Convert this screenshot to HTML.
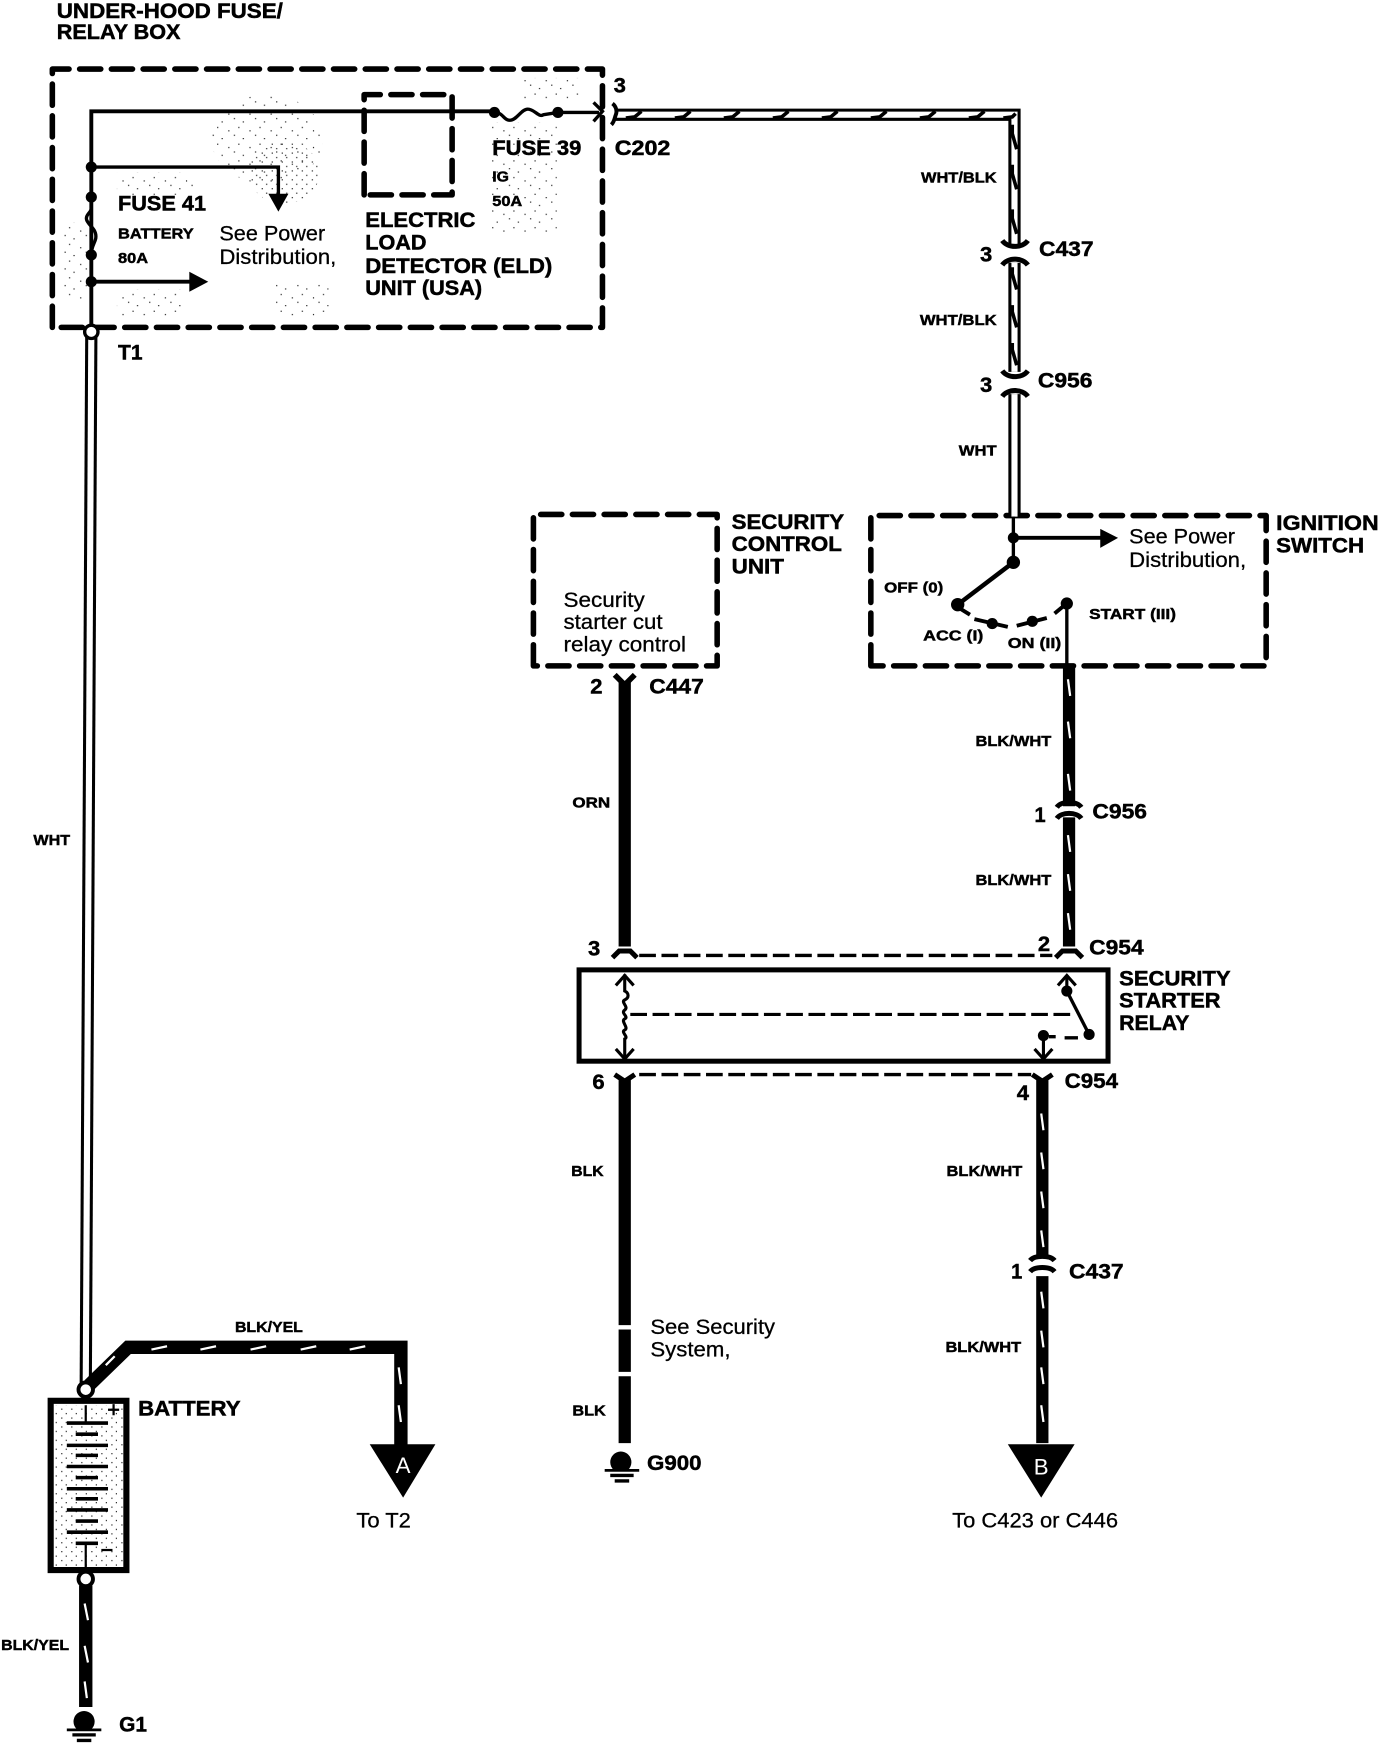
<!DOCTYPE html>
<html><head><meta charset="utf-8"><title>Security starter circuit</title>
<style>
html,body{margin:0;padding:0;background:#fff}
svg{display:block}
text{font-family:"Liberation Sans",Arial,sans-serif;fill:#000}
.b{font-weight:700;font-size:19px;stroke:#000;stroke-width:.45px}
.s{font-weight:700;font-size:13px;stroke:#000;stroke-width:.4px}
.r{font-size:19px;stroke:#000;stroke-width:.25px}
.n{font-weight:700;font-size:19px;stroke:#000;stroke-width:.4px}
</style></head><body>
<svg width="1392" height="1746" viewBox="0 0 1250 1568" preserveAspectRatio="none" xmlns="http://www.w3.org/2000/svg">
<defs>
<pattern id="st" width="19" height="15" patternUnits="userSpaceOnUse">
<rect x="1" y="1" width="1" height="1" fill="#000"/><rect x="9" y="4" width="1" height="1" fill="#000"/><rect x="5" y="9" width="1" height="1" fill="#000"/><rect x="15" y="12" width="1" height="1" fill="#000"/>
</pattern>
<pattern id="st2" width="9" height="8" patternUnits="userSpaceOnUse">
<rect x="1" y="1" width="1" height="1" fill="#000"/><rect x="5" y="5" width="1" height="1" fill="#000"/>
</pattern>
</defs>
<rect width="1250" height="1568" fill="#fff"/>

<!-- stipple -->
<g>
<ellipse cx="240" cy="125" rx="50" ry="40" fill="url(#st)"/>
<ellipse cx="255" cy="155" rx="32" ry="28" fill="url(#st2)"/>
<rect x="105" y="155" width="70" height="20" fill="url(#st)"/>
<rect x="55" y="200" width="25" height="70" fill="url(#st)"/>
<rect x="105" y="260" width="60" height="25" fill="url(#st)"/>
<rect x="245" y="255" width="50" height="30" fill="url(#st)"/>
<rect x="440" y="110" width="60" height="100" fill="url(#st)"/>
<rect x="470" y="70" width="50" height="20" fill="url(#st)"/>
<rect x="48" y="1262" width="66" height="146" fill="url(#st2)"/>
</g>

<!-- dashed boxes -->
<g fill="none" stroke="#000" stroke-width="5" stroke-dasharray="19 9.5" stroke-linecap="round" stroke-linejoin="round">
<path d="M47 294V62H541V294Z"/>
<path d="M327 175V85H406V175Z"/>
<path d="M479 598V462H644V598Z"/>
<path d="M782 598V463H1137V598Z"/>
</g>

<!-- under-hood wiring -->
<g fill="none" stroke="#000">
<path d="M82 294V100H444" stroke-width="3.5"/>
<path d="M82 150H250V176" stroke-width="3"/>
<path d="M82 253H172" stroke-width="3.5"/>
<path d="M444 101c8 0 8 7 14 7s10-10 16-10 10 8 14 5l13-2H538" stroke-width="3"/>
<path d="M533 92L541 100L533 109" stroke-width="3"/>
<path d="M82 177v10c0 4-6 6-4 11 3 6 9 8 8 16-1 5-4 7-4 15" stroke-width="3"/>
</g>
<g>
<circle cx="82" cy="150" r="5"/><circle cx="82" cy="177" r="5"/><circle cx="82" cy="229" r="5"/><circle cx="82" cy="253" r="5"/>
<circle cx="444" cy="101" r="5"/><circle cx="501" cy="101" r="5"/>
<path d="M241 174H259L250 190Z"/>
<path d="M170 244L187 253L170 262Z"/>
</g>

<!-- left white wire -->
<path d="M82 300L77 1244" stroke="#000" stroke-width="11" fill="none"/>
<path d="M82 300L77 1244" stroke="#fff" stroke-width="5.5" fill="none"/>
<circle cx="82" cy="298" r="6" fill="#fff" stroke="#000" stroke-width="3"/>

<!-- top WHT/BLK wire -->
<g fill="none">
<path d="M552 103H911V220M911 236V334" stroke="#000" stroke-width="11"/>
<path d="M552 103H911V220M911 236V334" stroke="#fff" stroke-width="5.5"/>
<path d="M911 354V464" stroke="#000" stroke-width="11"/>
<path d="M911 354V464" stroke="#fff" stroke-width="5.5"/>
<path d="M550 93c4 3 4 8 3 10s-1 6-4 9" stroke="#000" stroke-width="3.5"/>
<path d="M900 216c5 7 18 7 23 0M900 238c5-7 18-7 23 0M900 333c5 7 18 7 23 0M900 356c5-7 18-7 23 0" stroke="#000" stroke-width="4.5"/>
<path stroke="#000" stroke-width="3.2" d="M562 106l8-1 6-5M606 106l8-1 6-5M650 106l8-1 6-5M694 106l8-1 6-5M738 106l8-1 6-5M782 106l8-1 6-5M826 106l8-1 6-5M870 106l8-1 6-5M901 106l8-1 3-3M909 112v8l4 14M909 148v8l4 14M909 188v8l4 14M909 240v6l4 14M909 274v6l4 14M909 308v6l4 14"/>
</g>

<!-- ignition switch -->
<g fill="none" stroke="#000">
<path d="M910 464V505" stroke-width="3"/>
<path d="M910 483H990" stroke-width="3.5"/>
<path d="M910 505L860 543" stroke-width="4"/>
<path d="M858 544l13 8M875 556l30 7M913 562l27-7M947 551l12-10" stroke-width="3.5"/>
<path d="M958 543V597" stroke-width="3"/>
</g>
<g>
<circle cx="910" cy="483" r="5"/><circle cx="910" cy="505" r="6"/><circle cx="860" cy="543" r="6"/>
<circle cx="891" cy="560" r="5"/><circle cx="927" cy="558" r="5"/><circle cx="958" cy="542" r="5.5"/>
<path d="M988 475L1004 483L988 492Z"/>
</g>

<!-- BLK/WHT and others -->
<g fill="none" stroke="#000">
<path d="M960 596V724M960 734V850" stroke-width="11"/>
<path d="M561 612V850" stroke-width="11"/>
<path d="M561 970V1190M561 1194V1232M561 1236V1296" stroke-width="11"/>
<path d="M936 970V1130M936 1146V1296" stroke-width="11"/>
<path d="M77 1424V1533" stroke-width="12"/>
<path d="M80 1244L115 1210H360V1298" stroke-width="12" stroke-linejoin="miter"/>
<path d="M552 606l9 9 9-9" stroke-width="5"/>
<path d="M550 860l6-6h10l6 6" stroke-width="4.5"/>
<path d="M948 860l6-6h12l6 6" stroke-width="4.5"/>
<path d="M552 965l9 6 9-6" stroke-width="4.5"/>
<path d="M927 965l9 6 9-6" stroke-width="4.5"/>
<path d="M949 725c4-6 18-6 22 0" stroke-width="4.5"/>
<path d="M949 735c4-6 18-6 22 0" stroke-width="4.5"/>
<path d="M925 1132c4-5 18-5 22 0" stroke-width="4.5"/>
<path d="M925 1142c4-5 18-5 22 0" stroke-width="4.5"/>
<path d="M574 858H945M574 965H926" stroke-width="3" stroke-dasharray="15 5"/>
</g>
<path fill="none" stroke="#fff" stroke-width="2" d="M959 610l2 15M959 648l2 15M959 695l2 15M959 750l2 15M959 785l2 15M959 820l2 15M935 1000l2 15M935 1035l2 15M935 1070l2 15M935 1105l2 15M935 1160l2 15M935 1195l2 15M935 1228l2 15M935 1262l2 15M76 1440l3 15M76 1478l3 15M76 1510l2 15M358 1228l2 15M358 1262l2 15M95 1226l8-8M136 1212l14-3M180 1212l14-3M225 1212l14-3M270 1212l14-3M314 1212l14-3"/>

<!-- relay -->
<rect x="520" y="871" width="475" height="82" fill="#fff" stroke="#000" stroke-width="4.5"/>
<g fill="none" stroke="#000" stroke-width="2.8">
<path d="M561 875V890c4 2 4 6 0 8s4 6 0 9 4 6 0 8 4 8 0 10 4 6 0 8V950"/>
<path d="M553 885l8-9 8 9M553 942l8 9 8-9"/>
<path d="M566 911H964" stroke-dasharray="15 5"/>
<path d="M950 885l8-9 8 9M929 942l8 9 8-9"/>
<path d="M958 876V890M937 930V950"/>
<path d="M958 890L978 929" stroke-width="3"/>
<path d="M942 931h6M956 932h12" stroke-width="3"/>
</g>
<g><circle cx="958" cy="890" r="5"/><circle cx="978" cy="929" r="5"/><circle cx="937" cy="930" r="5"/></g>

<!-- arrows -->
<path d="M332 1297H391L362 1345Z"/>
<path d="M905 1297H965L935 1345Z"/>
<text x="362" y="1323" text-anchor="middle" font-size="20" style="fill:#fff">A</text>
<text x="935" y="1324" text-anchor="middle" font-size="20" style="fill:#fff">B</text>

<!-- battery -->
<rect x="45.5" y="1258" width="68" height="152" fill="none" stroke="#000" stroke-width="5.5"/>
<g stroke="#000" stroke-width="3.2" fill="none">
<path d="M60 1278H97M68 1288H88M60 1298H97M68 1307H88M60 1317H97M68 1327H88M60 1337H97M68 1346H88M60 1356H97M68 1366H88M60 1376H97M68 1386H88"/>
<path d="M77 1262V1278M77 1386V1411" stroke-width="2"/>
<path d="M97 1266h10M102 1261v10" stroke-width="2"/>
<path d="M91 1392h10" stroke-width="2"/>
</g>
<circle cx="77" cy="1248" r="6.5" fill="#fff" stroke="#000" stroke-width="3.5"/>
<circle cx="77" cy="1418" r="6.5" fill="#fff" stroke="#000" stroke-width="3.5"/>

<!-- grounds -->
<path d="M69 1553a9.5 9.5 0 1 1 13 0z"/>
<path d="M60 1553.5H91" stroke="#000" stroke-width="2.5"/><path d="M65 1558H86M69 1563H82" stroke="#000" stroke-width="3"/>
<path d="M551 1320a9.5 9.5 0 1 1 13 0z"/>
<path d="M543 1320.5H574" stroke="#000" stroke-width="2.5"/><path d="M548 1325H569M552 1330H565" stroke="#000" stroke-width="3"/>

<!-- labels -->
<g>
<text class="b" x="51" y="16" textLength="203" lengthAdjust="spacingAndGlyphs">UNDER-HOOD FUSE/</text>
<text class="b" x="51" y="35" textLength="111" lengthAdjust="spacingAndGlyphs">RELAY BOX</text>
<text class="n" x="551" y="83" textLength="11" lengthAdjust="spacingAndGlyphs">3</text>
<text class="b" x="442" y="139" textLength="80" lengthAdjust="spacingAndGlyphs">FUSE 39</text>
<text class="b" x="552" y="139" textLength="50" lengthAdjust="spacingAndGlyphs">C202</text>
<text class="s" x="442" y="163" textLength="15" lengthAdjust="spacingAndGlyphs">IG</text>
<text class="s" x="442" y="185" textLength="27" lengthAdjust="spacingAndGlyphs">50A</text>
<text class="b" x="106" y="189" textLength="79" lengthAdjust="spacingAndGlyphs">FUSE 41</text>
<text class="s" x="106" y="214" textLength="68" lengthAdjust="spacingAndGlyphs">BATTERY</text>
<text class="s" x="106" y="236" textLength="27" lengthAdjust="spacingAndGlyphs">80A</text>
<text class="r" x="197" y="216" textLength="95" lengthAdjust="spacingAndGlyphs">See Power</text>
<text class="r" x="197" y="237" textLength="105" lengthAdjust="spacingAndGlyphs">Distribution,</text>
<text class="b" x="328" y="204" textLength="99" lengthAdjust="spacingAndGlyphs">ELECTRIC</text>
<text class="b" x="328" y="224" textLength="55" lengthAdjust="spacingAndGlyphs">LOAD</text>
<text class="b" x="328" y="245" textLength="168" lengthAdjust="spacingAndGlyphs">DETECTOR (ELD)</text>
<text class="b" x="328" y="265" textLength="105" lengthAdjust="spacingAndGlyphs">UNIT (USA)</text>
<text class="n" font-size="16" x="106" y="323" textLength="22" lengthAdjust="spacingAndGlyphs">T1</text>
<text class="s" x="30" y="759" textLength="33" lengthAdjust="spacingAndGlyphs">WHT</text>
<text class="s" x="827" y="164" textLength="68" lengthAdjust="spacingAndGlyphs">WHT/BLK</text>
<text class="n" x="880" y="235" textLength="11" lengthAdjust="spacingAndGlyphs">3</text>
<text class="n" x="933" y="230" textLength="49" lengthAdjust="spacingAndGlyphs">C437</text>
<text class="s" x="826" y="292" textLength="69" lengthAdjust="spacingAndGlyphs">WHT/BLK</text>
<text class="n" x="880" y="352" textLength="11" lengthAdjust="spacingAndGlyphs">3</text>
<text class="n" x="932" y="348" textLength="49" lengthAdjust="spacingAndGlyphs">C956</text>
<text class="s" x="861" y="409" textLength="34" lengthAdjust="spacingAndGlyphs">WHT</text>
<text class="b" x="657" y="475" textLength="101" lengthAdjust="spacingAndGlyphs">SECURITY</text>
<text class="b" x="657" y="495" textLength="99" lengthAdjust="spacingAndGlyphs">CONTROL</text>
<text class="b" x="657" y="515" textLength="47" lengthAdjust="spacingAndGlyphs">UNIT</text>
<text class="r" x="506" y="545" textLength="73" lengthAdjust="spacingAndGlyphs">Security</text>
<text class="r" x="506" y="565" textLength="89" lengthAdjust="spacingAndGlyphs">starter cut</text>
<text class="r" x="506" y="585" textLength="110" lengthAdjust="spacingAndGlyphs">relay control</text>
<text class="b" x="1146" y="476" textLength="92" lengthAdjust="spacingAndGlyphs">IGNITION</text>
<text class="b" x="1146" y="496" textLength="79" lengthAdjust="spacingAndGlyphs">SWITCH</text>
<text class="r" x="1014" y="488" textLength="95" lengthAdjust="spacingAndGlyphs">See Power</text>
<text class="r" x="1014" y="509" textLength="105" lengthAdjust="spacingAndGlyphs">Distribution,</text>
<text class="s" x="794" y="532" textLength="53" lengthAdjust="spacingAndGlyphs">OFF (0)</text>
<text class="s" x="978" y="556" textLength="78" lengthAdjust="spacingAndGlyphs">START (III)</text>
<text class="s" x="829" y="575" textLength="54" lengthAdjust="spacingAndGlyphs">ACC (I)</text>
<text class="s" x="905" y="582" textLength="48" lengthAdjust="spacingAndGlyphs">ON (II)</text>
<text class="n" x="530" y="623" textLength="11" lengthAdjust="spacingAndGlyphs">2</text>
<text class="n" x="583" y="623" textLength="49" lengthAdjust="spacingAndGlyphs">C447</text>
<text class="s" x="514" y="725" textLength="34" lengthAdjust="spacingAndGlyphs">ORN</text>
<text class="s" x="876" y="670" textLength="68" lengthAdjust="spacingAndGlyphs">BLK/WHT</text>
<text class="n" x="929" y="738" textLength="10" lengthAdjust="spacingAndGlyphs">1</text>
<text class="n" x="981" y="735" textLength="49" lengthAdjust="spacingAndGlyphs">C956</text>
<text class="s" x="876" y="795" textLength="68" lengthAdjust="spacingAndGlyphs">BLK/WHT</text>
<text class="n" x="528" y="858" textLength="11" lengthAdjust="spacingAndGlyphs">3</text>
<text class="n" x="932" y="854" textLength="11" lengthAdjust="spacingAndGlyphs">2</text>
<text class="n" x="978" y="857" textLength="49" lengthAdjust="spacingAndGlyphs">C954</text>
<text class="b" x="1005" y="885" textLength="100" lengthAdjust="spacingAndGlyphs">SECURITY</text>
<text class="b" x="1005" y="905" textLength="91" lengthAdjust="spacingAndGlyphs">STARTER</text>
<text class="b" x="1005" y="925" textLength="63" lengthAdjust="spacingAndGlyphs">RELAY</text>
<text class="n" x="532" y="978" textLength="11" lengthAdjust="spacingAndGlyphs">6</text>
<text class="n" x="956" y="977" textLength="48" lengthAdjust="spacingAndGlyphs">C954</text>
<text class="n" x="913" y="988" textLength="11" lengthAdjust="spacingAndGlyphs">4</text>
<text class="s" x="513" y="1056" textLength="29" lengthAdjust="spacingAndGlyphs">BLK</text>
<text class="s" x="850" y="1056" textLength="68" lengthAdjust="spacingAndGlyphs">BLK/WHT</text>
<text class="n" x="908" y="1148" textLength="10" lengthAdjust="spacingAndGlyphs">1</text>
<text class="n" x="960" y="1148" textLength="49" lengthAdjust="spacingAndGlyphs">C437</text>
<text class="s" x="849" y="1214" textLength="68" lengthAdjust="spacingAndGlyphs">BLK/WHT</text>
<text class="r" x="584" y="1198" textLength="112" lengthAdjust="spacingAndGlyphs">See Security</text>
<text class="r" x="584" y="1218" textLength="72" lengthAdjust="spacingAndGlyphs">System,</text>
<text class="s" x="514" y="1271" textLength="30" lengthAdjust="spacingAndGlyphs">BLK</text>
<text class="n" x="581" y="1320" textLength="49" lengthAdjust="spacingAndGlyphs">G900</text>
<text class="r" x="855" y="1372" textLength="149" lengthAdjust="spacingAndGlyphs">To C423 or C446</text>
<text class="r" x="320" y="1372" textLength="49" lengthAdjust="spacingAndGlyphs">To T2</text>
<text class="s" x="211" y="1196" textLength="61" lengthAdjust="spacingAndGlyphs">BLK/YEL</text>
<text class="b" x="124" y="1271" textLength="92" lengthAdjust="spacingAndGlyphs">BATTERY</text>
<text class="s" x="1" y="1482" textLength="61" lengthAdjust="spacingAndGlyphs">BLK/YEL</text>
<text class="n" x="107" y="1555" textLength="25" lengthAdjust="spacingAndGlyphs">G1</text>
</g>
</svg>
</body></html>
